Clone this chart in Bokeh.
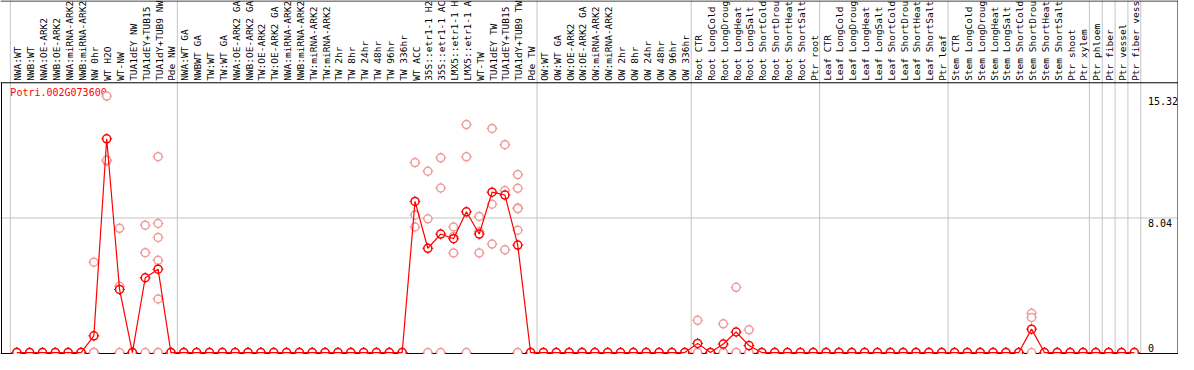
import math
from bokeh.plotting import figure
from bokeh.models import Range1d, ColumnDataSource
from bokeh.core.properties import value
from bokeh.embed import file_html
from bokeh.resources import INLINE

# ---------------- data ----------------
gene_id = "Potri.002G073600"

labels_nw = ["NWA:WT", "NWB:WT", "NWA:OE-ARK2", "NWB:OE-ARK2", "NWA:miRNA-ARK2",
             "NWB:miRNA-ARK2", "NW 0hr", "WT H2O", "WT-NW", "TUA1dEY NW",
             "TUA1dEY+TUB15", "TUA1dY+TUB9 NW", "Pde NW"]
labels_tw = ["NWA:WT GA", "NWBWT GA", "TW:WT", "TW:WT GA", "NWA:OE-ARK2 GA",
             "NWB:OE-ARK2 GA", "TW:OE-ARK2", "TW:OE-ARK2 GA", "NWA:miRNA-ARK2",
             "NWB:miRNA-ARK2", "TW:miRNA-ARK2", "TW:miRNA-ARK2", "TW 2hr", "TW 8hr",
             "TW 24hr", "TW 48hr", "TW 96hr", "TW 336hr", "WT ACC", "35S::etr1-1 H2",
             "35S::etr1-1 AC", "LMX5::etr1-1 H", "LMX5::etr1-1 A", "WT-TW",
             "TUA1dEY TW", "TUA1dEY+TUB15", "TUA1dY+TUB9 TW", "Pde TW"]
labels_ow = ["OW:WT", "OW:WT GA", "OW:OE-ARK2", "OW:OE-ARK2 GA", "OW:miRNA-ARK2",
             "OW:miRNA-ARK2", "OW 2hr", "OW 8hr", "OW 24hr", "OW 48hr", "OW 96hr",
             "OW 336hr"]
labels_root = ["Root CTR", "Root LongCold", "Root LongDroug", "Root LongHeat",
               "Root LongSalt", "Root ShortCold", "Root ShortDrou", "Root ShortHeat",
               "Root ShortSalt", "Ptr root"]
labels_leaf = ["Leaf CTR", "Leaf LongCold", "Leaf LongDroug", "Leaf LongHeat",
               "Leaf LongSalt", "Leaf ShortCold", "Leaf ShortDrou", "Leaf ShortHeat",
               "Leaf ShortSalt", "Ptr leaf"]
labels_stem = ["Stem CTR", "Stem LongCold", "Stem LongDroug", "Stem LongHeat",
               "Stem LongSalt", "Stem ShortCold", "Stem ShortDrou", "Stem ShortHeat",
               "Stem ShortSalt", "Ptr shoot", "Ptr xylem"]
labels_ptr = ["Ptr phloem", "Ptr fiber", "Ptr vessel", "Ptr fiber vess"]

groups = [labels_nw, labels_tw, labels_ow, labels_root, labels_leaf, labels_stem,
          [labels_ptr[0]], [labels_ptr[1]], [labels_ptr[2]], [labels_ptr[3]]]

means_nw = [0, 0, 0, 0, 0, 0, 1.0, 12.77, 3.77, 0, 4.47, 4.98, 0]
means_tw = [0] * 18 + [9.03, 6.23, 7.08, 6.80, 8.41, 7.08, 9.58, 9.41, 6.42, 0]
means_ow = [0] * 12
means_root = [0.55, 0, 0.51, 1.23, 0.42, 0, 0, 0, 0, 0]
means_leaf = [0] * 10
means_stem = [0, 0, 0, 0, 0, 0, 1.40, 0, 0, 0, 0]
means_ptr = [0, 0, 0, 0]

Z = [0, 0, 0]
reps_nw = [Z, Z, Z, Z, Z, Z,
           [5.4, 0, 0, 0, 0],
           [15.32, 11.44, 11.5],
           [7.42, 3.96, 0],
           Z,
           [7.61, 5.97, 0],
           [11.7, 7.71, 6.88, 5.51, 3.2, 0, 0],
           Z]
reps_tw = [Z] * 18 + [
           [11.35, 8.22, 7.5],
           [10.83, 7.99, 0],
           [11.63, 9.83, 0],
           [7.5, 6.93, 5.95],
           [13.62, 11.69, 0],
           [8.13, 7.22, 5.95],
           [13.39, 8.86, 6.48],
           [12.42, 9.68, 6.14],
           [10.63, 9.81, 8.64, 8.6, 7.31, 0, 0],
           Z]
reps_ow = [Z] * 12
reps_root = [[1.93, 0, 0], Z, [1.72, 0, 0], [3.9, 0, 0], [1.36, 0, 0], Z, Z, Z, Z, Z]
reps_leaf = [Z] * 10
reps_stem = [Z, Z, Z, Z, Z, Z, [2.35, 2.1, 0], Z, Z, Z, Z]
reps_ptr = [Z, Z, Z, Z]

y_ticks = [0, 8.04, 15.32]
y_tick_labels = ["0", "8.04", "15.32"]

categories = sum(groups, [])
means = means_nw + means_tw + means_ow + means_root + means_leaf + means_stem + means_ptr
replicates = reps_nw + reps_tw + reps_ow + reps_root + reps_leaf + reps_stem + reps_ptr

# ---------------- layout helpers (reference-pixel geometry) ----------------
W, H = 1178, 354
CAT_PX = 13.02      # width of one category in the reference
LEFT_PX = 10        # left edge of first category
BASE_PX = 368       # zero line
UNIT_PX = 17.5      # pixels per expression unit


def rx(px):
    return (px - LEFT_PX) / CAT_PX


def ry(py):
    return (BASE_PX - py) / UNIT_PX


MONO = value("DejaVu Sans Mono")
RED = "#ff0000"
PINK = "#f09a9a"
GRAY = "#c4c4c4"

p = figure(width=W, height=H, x_range=Range1d(rx(0), rx(1194)),
           y_range=Range1d(ry(370), ry(0)), x_axis_type=None, y_axis_type=None,
           output_backend="svg", toolbar_location=None, min_border=0,
           outline_line_color=None, background_fill_color="white",
           border_fill_color="white")
p.xgrid.visible = False
p.ygrid.visible = False

# group separators
bounds = [0]
for g in groups:
    bounds.append(bounds[-1] + len(g))
p.segment(x0=bounds, y0=[ry(370)] * len(bounds), x1=bounds, y1=[ry(0)] * len(bounds),
          line_color=GRAY, line_width=1)

# horizontal grid line at the middle tick
p.segment(x0=[rx(0)], y0=[y_ticks[1]], x1=[rx(1193)], y1=[y_ticks[1]],
          line_color=GRAY, line_width=1)

# frame lines
p.segment(x0=[rx(0), rx(0), rx(0), rx(1193.5), rx(1)],
          y0=[ry(0.5), ry(86), ry(369), ry(0), ry(86)],
          x1=[rx(1194), rx(1194), rx(1194), rx(1193.5), rx(1)],
          y1=[ry(0.5), ry(86), ry(369), ry(370), ry(370)],
          line_color="black", line_width=1)

# header labels
xs = [i + 0.5 for i in range(len(categories))]
p.text(x=xs, y=[ry(84)] * len(xs), text=categories, angle=math.pi / 2,
       text_align="left", text_baseline="middle", text_font=MONO,
       text_font_size="9.5px", text_color="black", x_offset=1)

# gene id
p.text(x=[rx(10)], y=[ry(90)], text=[gene_id], text_align="left", text_baseline="top",
       text_font=MONO, text_font_size="10px", text_color=RED)

# y tick labels (drawn inside the frame at the right)
p.text(x=[rx(1163)] * 2, y=y_ticks[1:], text=y_tick_labels[1:], text_align="left",
       text_baseline="top", text_font=MONO, text_font_size="10px",
       text_color="black", y_offset=1)
p.text(x=[rx(1163)], y=y_ticks[:1], text=y_tick_labels[:1], text_align="left",
       text_baseline="bottom", text_font=MONO, text_font_size="10px",
       text_color="black", y_offset=-1)

# replicate points
rx_pts, ry_pts = [], []
for i, reps in enumerate(replicates):
    for v in reps:
        rx_pts.append(i + 0.5)
        ry_pts.append(v)
rsrc = ColumnDataSource(dict(x=rx_pts, y=ry_pts))
p.scatter("x", "y", source=rsrc, marker="cross", size=11, line_color=PINK, line_width=1)
p.scatter("x", "y", source=rsrc, marker="circle", size=8, line_color=PINK,
          line_width=1.5, fill_color="white")

# means
msrc = ColumnDataSource(dict(x=xs, y=means))
p.scatter("x", "y", source=msrc, marker="cross", size=11, line_color=RED, line_width=1)
p.scatter("x", "y", source=msrc, marker="circle", size=8, line_color=RED,
          line_width=1.5, fill_color="white")
p.line("x", "y", source=msrc, line_color=RED, line_width=1.2)

open("out.html", "w").write(file_html(p, INLINE))
